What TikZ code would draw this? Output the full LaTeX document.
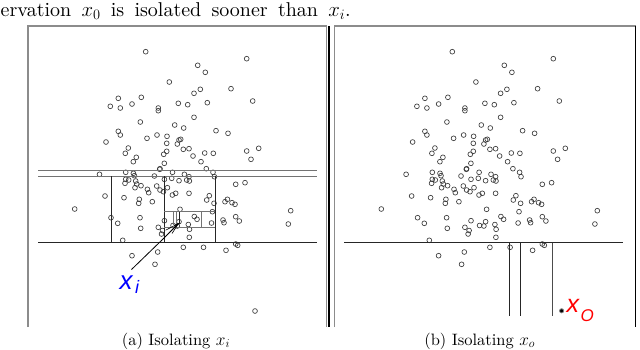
\documentclass[tikz,border=0pt]{standalone}
\usepackage{fontspec}
\setmainfont{lmroman10}[Extension=.otf,UprightFont=*-regular,ItalicFont=*-italic,BoldFont=*-bold,BoldItalicFont=*-bolditalic]
\newfontfamily\labfont{Liberation Sans}
\begin{document}
\begin{tikzpicture}[x=1pt,y=-1pt,
  framegray/.style={draw=black!45,line width=1.1pt},
  frameblack/.style={draw=black,line width=1.3pt},
  cutline/.style={draw=black!85,line width=0.9pt},
  thinline/.style={draw=black!55,line width=0.6pt},
  pt/.style={draw=black!78,line width=0.65pt},
  captxt/.style={font=\fontsize{16.5}{19}\selectfont,inner sep=0pt}]
\useasboundingbox (0,0) rectangle (640,349);
% top line of text
\node[anchor=base west,inner sep=0pt,font=\fontsize{20}{22}\selectfont] (toptext) at (0.5,16)
  {\makebox[350pt][s]{ervation $x_0$ is isolated sooner than $x_i$.}};
% frames
\draw[framegray] (28,327) -- (28,26) -- (327,26);
\draw[framegray] (326.7,26) -- (326.7,327);
\draw[frameblack] (329,26) -- (329,327);
\draw[framegray] (334.5,327) -- (334.5,26) -- (635.5,26);
\draw[frameblack] (635.5,26) -- (635.5,327);
% points
\def\ptlist{145.7/51.7, 246.7/58.7, 197.7/65.3, 205.3/72.3, 169.3/82, 231/88.7, 200.3/89.3, 194/93.3, 118.3/98.3, 141.3/97.3, 252.7/101, 110.3/106.3, 120.3/108, 132/104, 158.3/108, 158.3/110.7, 178.3/103.3, 187.7/104.7, 207.3/102.7, 194/117.3, 140.3/122, 174.7/125, 183.7/128, 216/130.7, 228/133.3, 118.3/131.3, 120.3/135, 106/142, 147/138.3, 157/135, 167/136.3, 166.7/143.3, 179/140, 180.7/139.3, 177.3/144, 128.3/148, 125.3/153.3, 136.3/157.3, 133.3/161.7, 183.3/149.3, 189/148.7, 166.7/151.3, 163.7/154.3, 193/156, 204.7/153, 213.3/153.3, 201/161.7, 246.7/151, 258.7/148.3, 251/159.3, 164.3/163.3, 160/168.7, 206.3/168.7, 213/172.3, 99.5/174.3, 125.7/172.3, 133.4/173.3, 134.4/175.7, 154.4/176, 159.7/169.3, 172.5/172.3, 171.7/178.3, 184.4/174.3, 189/176.7, 186.7/180, 189.4/181, 179/180.7, 214.4/176.7, 125.7/179.3, 125/183.3, 128.7/180, 135.7/181, 136.7/184, 141/185.7, 135/187.7, 164.4/179.3, 156.7/186, 160/190, 167.4/187.7, 163.4/191.7, 172.4/195, 175.7/193.3, 189/193.3, 147.4/189.3, 148.7/192.7, 235.7/184.3, 245/182.7, 105/196, 124/197.7, 139.3/199.3, 138.7/203.3, 152.3/201.7, 209.3/195.7, 206.7/200, 214/203.3, 227.4/199.3, 225/201.7, 232/202.7, 235/204.3, 74.7/209, 290.7/210.7, 212.4/211.7, 180/209.3, 111/217.7, 117.7/223.3, 140/217.7, 140.7/228.3, 164.4/220.7, 158.3/227.3, 162.5/230.5, 161.5/234, 173/225.5, 177.3/226, 179/221.7, 188.3/224.5, 189.5/229.3, 194.3/216.5, 197/219.3, 211.5/223, 223/220, 224/222.7, 235.7/216.7, 239.3/221, 288.3/224, 122.7/240.3, 189.3/237.3, 183.3/247.3, 203.5/247.3, 226/250.3, 235.7/244, 237.7/245.3, 157.7/252, 132/255.7, 155/264.3}
\foreach \px/\py in \ptlist {
  \draw[pt] (\px,\py) circle (2.4);
  \draw[pt] (\px+306.6,\py) circle (2.4);
}
\draw[pt] (255,311) circle (2.4);
% left panel partition lines
\draw[thinline,line width=0.9pt] (38.3,170) -- (316.7,170);
\draw[thinline,line width=0.9pt] (38.3,176) -- (316.7,176);
\draw[cutline,line width=1.2pt] (38.3,242.7) -- (316.7,242.7);
\draw[cutline] (111.7,176) -- (111.7,242.7);
\draw[cutline,line width=1.2pt] (164.3,176) -- (164.3,242.7);
\draw[cutline] (215,176) -- (215,242.7);
\draw[thinline] (164.3,211.6) -- (215,211.6);
\draw[thinline] (164.3,227.3) -- (215,227.3);
\draw[thinline] (201,211.6) -- (201,227.3);
\draw[thinline] (173,211.6) -- (173,225);
\draw[thinline] (176.2,211.6) -- (176.2,225);
\draw[cutline] (179,211.6) -- (179,224);
% arrow to x_i
\coordinate (xip) at (178.5,223.5);
\node[inner sep=0pt,anchor=base west,text=blue] (xi) at (119.5,289.5)
  {\labfont\itshape\fontsize{26}{28}\selectfont x\hspace{2.5pt}\raisebox{-3.5pt}{\fontsize{18}{20}\selectfont i}};
\coordinate (arrstart) at (131.5,269.5);
\draw[black,line width=0.8pt] (arrstart) -- (163,239) -- (xip);
\draw[black,line width=0.6pt] (166,230) -- (xip);
\draw[black,line width=0.6pt] (169,233) -- (xip);
\draw[black,line width=0.6pt] (172,233.5) -- (xip);
% right panel partition lines
\draw[cutline,line width=1.2pt] (344.3,242.7) -- (623.3,242.7);
\draw[cutline] (509.3,242.7) -- (509.3,316);
\draw[cutline] (520.7,242.7) -- (520.7,316);
\draw[cutline,draw=black!70] (552.7,242.7) -- (552.7,316);
% x_o point and label
\node[circle,fill=black,draw=black!50,line width=0.8pt,inner sep=0pt,minimum size=4.2pt] (xop) at (561.6,310.8) {};
\node[inner sep=0pt,anchor=base west,text=red] (xo) at (566.5,312)
  {\labfont\itshape\fontsize{25}{27}\selectfont x\hspace{1.5pt}\raisebox{-9pt}{\fontsize{17}{19}\selectfont O}};
% captions
\node[captxt,anchor=base] (capa) at (176,345) {(a) Isolating $x_i$};
\node[captxt,anchor=base] (capb) at (479.7,345) {(b) Isolating $x_o$};
\end{tikzpicture}
\end{document}
